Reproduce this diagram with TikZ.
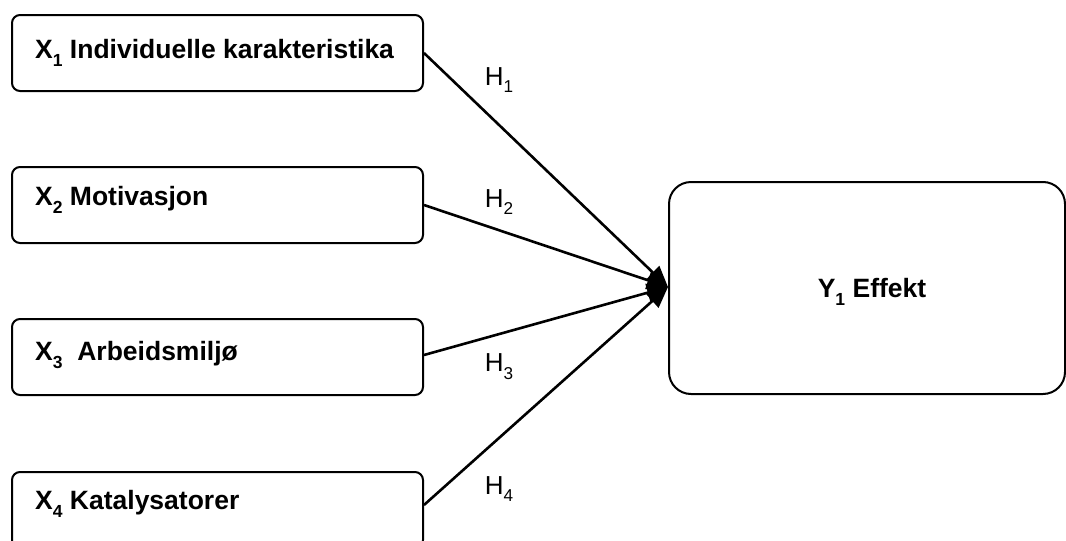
\documentclass[tikz,border=0pt]{standalone}
\usepackage{fontspec}
\setmainfont{Liberation Sans}
\usetikzlibrary{arrows.meta}
\newcommand{\lsub}[1]{\raisebox{-0.3em}{\fontsize{0.66em}{0.7em}\selectfont #1}}
\tikzset{
  inbox/.style={draw, line width=2pt, rounded corners=8pt, minimum width=411pt, minimum height=76pt, anchor=north west, inner sep=0pt},
  boxtext/.style={anchor=west, font=\fontsize{26.5}{30}\selectfont\bfseries, inner sep=0pt},
  hyp/.style={font=\fontsize{26}{30}\selectfont, inner sep=0pt},
  arr/.style={line width=2.6pt, -{Triangle[length=21pt,width=18pt]}}
}
\begin{document}
\begin{tikzpicture}[x=1pt,y=-1pt]
\useasboundingbox (0,0) rectangle (1066,541);
\node[inbox] (b1) at (11,14) {};
\node[inbox] (b2) at (11,166) {};
\node[inbox] (b3) at (11,318) {};
\node[inbox] (b4) at (11,471) {};
\node[draw, line width=2pt, rounded corners=22pt, minimum width=396pt, minimum height=212pt, anchor=north west, inner sep=0pt] (y) at (668,181) {};
\node[boxtext] (t1) at (35,53) {X\lsub{1} Individuelle karakteristika};
\node[boxtext] (t2) at (35,200) {X\lsub{2} Motivasjon};
\node[boxtext] (t3) at (35,355) {X\lsub{3}\ \ Arbeidsmiljø};
\node[boxtext] (t4) at (35,504) {X\lsub{4} Katalysatorer};
\node[font=\fontsize{26.5}{30}\selectfont\bfseries, inner sep=0pt] (ty) at (872,292) {Y\lsub{1} Effekt};
\coordinate (tip) at (668,287);
\draw[arr] (b1.east |- 0,53) -- (tip);
\draw[arr] (b2.east |- 0,205) -- (tip);
\draw[arr] (b3.east |- 0,355) -- (tip);
\draw[arr] (b4.east |- 0,505) -- (tip);
\node[hyp] (h1) at (499,80) {H\lsub{1}};
\node[hyp] (h2) at (499,202) {H\lsub{2}};
\node[hyp] (h3) at (499,367) {H\lsub{3}};
\node[hyp] (h4) at (499,489) {H\lsub{4}};
\end{tikzpicture}
\end{document}
